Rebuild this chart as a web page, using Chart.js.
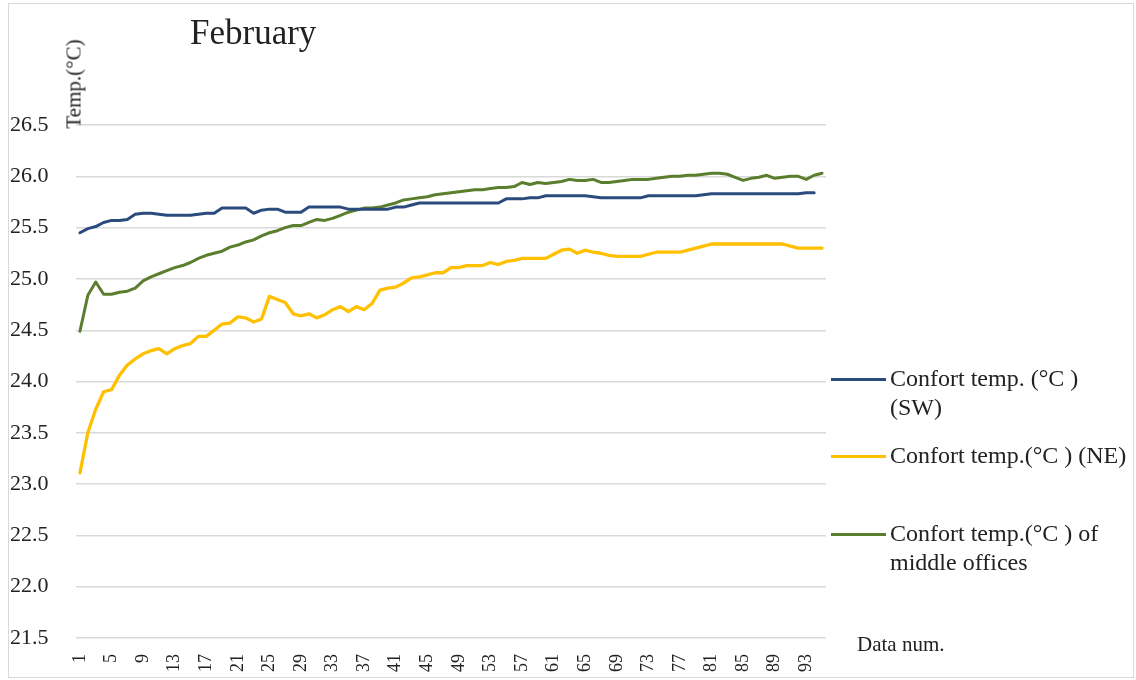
<!DOCTYPE html>
<html>
<head>
<meta charset="utf-8">
<script src="https://cdn.jsdelivr.net/npm/chart.js@4.4.1/dist/chart.umd.min.js"></script>
<style>
  html, body { margin: 0; padding: 0; background: #fff; }
  #wrap { position: relative; width: 1136px; height: 680px; font-family: "Liberation Serif", "Times New Roman", serif; color: #222; }
  #chart { position: absolute; left: 0; top: 0; }
  #frame { position: absolute; left: 8px; top: 3px; width: 1126px; height: 675px; border: 1px solid #d9d9d9; box-sizing: border-box; pointer-events: none; }
  .txt { position: absolute; white-space: nowrap; }
  #title { left: 190px; top: 13px; font-size: 35px; }
  #ytitle { left: 74px; top: 84px; font-size: 21px; transform: translate(-50%, -50%) rotate(-90deg); }
  #xtitle { left: 857px; top: 632px; font-size: 21px; }
  #legend { position: absolute; left: 0; top: 0; }
  #legend .item { position: absolute; left: 831px; display: flex; align-items: flex-start; }
  #legend .swatch { width: 55px; height: 3px; margin-top: 14px; margin-right: 4px; }
  #legend .label { width: 240px; font-size: 24px; line-height: 29px; }
</style>
</head>
<body>
<div id="wrap">
  <canvas id="chart" width="1136" height="680"></canvas>
  <div class="txt" id="title">February</div>
  <div class="txt" id="ytitle">Temp.(°C)</div>
  <div class="txt" id="xtitle">Data num.</div>
  <div id="legend"></div>
  <div id="frame"></div>
</div>
<script>
/* =======================
   DATA
======================= */
const dataNum = [
  '1','2','3','4','5','6','7','8','9','10','11','12','13','14','15','16','17','18','19','20',
  '21','22','23','24','25','26','27','28','29','30','31','32','33','34','35','36','37','38','39','40',
  '41','42','43','44','45','46','47','48','49','50','51','52','53','54','55','56','57','58','59','60',
  '61','62','63','64','65','66','67','68','69','70','71','72','73','74','75','76','77','78','79','80',
  '81','82','83','84','85','86','87','88','89','90','91','92','93','94','95'
];
const shownTicks = ['1','5','9','13','17','21','25','29','33','37','41','45','49','53','57','61','65','69','73','77','81','85','89','93'];
const yTicks = [21.5, 22.0, 22.5, 23.0, 23.5, 24.0, 24.5, 25.0, 25.5, 26.0, 26.5];

const comfortSW = [
  25.45,25.49,25.51,25.55,25.57,25.57,25.58,25.63,25.64,25.64,
  25.63,25.62,25.62,25.62,25.62,25.63,25.64,25.64,25.69,25.69,
  25.69,25.69,25.64,25.67,25.68,25.68,25.65,25.65,25.65,25.70,
  25.70,25.70,25.70,25.70,25.68,25.68,25.68,25.68,25.68,25.68,
  25.70,25.70,25.72,25.74,25.74,25.74,25.74,25.74,25.74,25.74,
  25.74,25.74,25.74,25.74,25.78,25.78,25.78,25.79,25.79,25.81,
  25.81,25.81,25.81,25.81,25.81,25.80,25.79,25.79,25.79,25.79,
  25.79,25.79,25.81,25.81,25.81,25.81,25.81,25.81,25.81,25.82,
  25.83,25.83,25.83,25.83,25.83,25.83,25.83,25.83,25.83,25.83,
  25.83,25.83,25.84,25.84
];
const comfortNE = [
  23.11,23.50,23.73,23.90,23.92,24.06,24.16,24.22,24.27,24.30,
  24.32,24.27,24.32,24.35,24.37,24.44,24.44,24.50,24.56,24.57,
  24.63,24.62,24.58,24.61,24.83,24.80,24.77,24.66,24.64,24.66,
  24.62,24.65,24.70,24.73,24.68,24.73,24.70,24.76,24.89,24.91,
  24.92,24.96,25.01,25.02,25.04,25.06,25.06,25.11,25.11,25.13,
  25.13,25.13,25.16,25.14,25.17,25.18,25.20,25.20,25.20,25.20,
  25.24,25.28,25.29,25.25,25.28,25.26,25.25,25.23,25.22,25.22,
  25.22,25.22,25.24,25.26,25.26,25.26,25.26,25.28,25.30,25.32,
  25.34,25.34,25.34,25.34,25.34,25.34,25.34,25.34,25.34,25.34,
  25.32,25.30,25.30,25.30,25.30
];
const comfortMiddle = [
  24.49,24.84,24.97,24.85,24.85,24.87,24.88,24.91,24.98,25.02,
  25.05,25.08,25.11,25.13,25.16,25.20,25.23,25.25,25.27,25.31,
  25.33,25.36,25.38,25.42,25.45,25.47,25.50,25.52,25.52,25.55,
  25.58,25.57,25.59,25.62,25.65,25.67,25.69,25.69,25.70,25.72,
  25.74,25.77,25.78,25.79,25.80,25.82,25.83,25.84,25.85,25.86,
  25.87,25.87,25.88,25.89,25.89,25.90,25.94,25.92,25.94,25.93,
  25.94,25.95,25.97,25.96,25.96,25.97,25.94,25.94,25.95,25.96,
  25.97,25.97,25.97,25.98,25.99,26.00,26.00,26.01,26.01,26.02,
  26.03,26.03,26.02,25.99,25.96,25.98,25.99,26.01,25.98,25.99,
  26.00,26.00,25.97,26.01,26.03
];

/* =======================
   HTML LEGEND
======================= */
const legendRows = [364, 441, 519]; // top of each legend entry
const htmlLegend = {
  id: 'htmlLegend',
  afterUpdate(chart) {
    const box = document.getElementById('legend');
    box.innerHTML = '';
    chart.data.datasets.forEach((ds, i) => {
      const item = document.createElement('div');
      item.className = 'item';
      item.style.top = legendRows[i] + 'px';
      const sw = document.createElement('div');
      sw.className = 'swatch';
      sw.style.background = ds.borderColor;
      const lb = document.createElement('div');
      lb.className = 'label';
      lb.textContent = ds.label;
      item.appendChild(sw);
      item.appendChild(lb);
      box.appendChild(item);
    });
  }
};

/* =======================
   CHART
======================= */
const serif = '"Liberation Serif", "Times New Roman", serif';
const ctx = document.getElementById('chart').getContext('2d');
const chart = new Chart(ctx, {
  type: 'line',
  data: {
    labels: dataNum,
    datasets: [
      { label: 'Confort temp. (°C ) (SW)', data: comfortSW, borderColor: '#2B4B7D' },
      { label: 'Confort temp.(°C ) (NE)', data: comfortNE, borderColor: '#FFC000', borderWidth: 3.3 },
      { label: 'Confort temp.(°C ) of middle offices', data: comfortMiddle, borderColor: '#5A7E2E' }
    ]
  },
  options: {
    responsive: false,
    animation: false,
    layout: { padding: { left: 10, top: 125, right: 310, bottom: 0 } },
    elements: {
      line: { borderWidth: 3, tension: 0, borderJoinStyle: 'round', borderCapStyle: 'round' },
      point: { radius: 0, hoverRadius: 0 }
    },
    plugins: { legend: { display: false }, tooltip: { enabled: false } },
    scales: {
      x: {
        offset: true,
        grid: { display: false },
        border: { display: false },
        ticks: {
          autoSkip: false,
          maxRotation: 90,
          minRotation: 90,
          padding: 8,
          color: '#222',
          font: { family: serif, size: 18 },
          callback: function(v, i) {
            const lab = this.getLabelForValue(v);
            return shownTicks.includes(lab) ? lab : '';
          }
        },
        afterFit: s => { s.height = 42; }
      },
      y: {
        min: yTicks[0],
        max: yTicks[yTicks.length - 1],
        grid: { color: '#d9d9d9', lineWidth: 1.4, drawTicks: false },
        border: { display: false },
        afterBuildTicks: s => { s.ticks = yTicks.map(v => ({ value: v })); },
        ticks: {
          crossAlign: 'far',
          color: '#222',
          font: { family: serif, size: 22 },
          callback: v => Number(v).toFixed(1)
        },
        afterFit: s => { s.width = 66; }
      }
    }
  },
  plugins: [htmlLegend]
});
</script>
</body>
</html>
